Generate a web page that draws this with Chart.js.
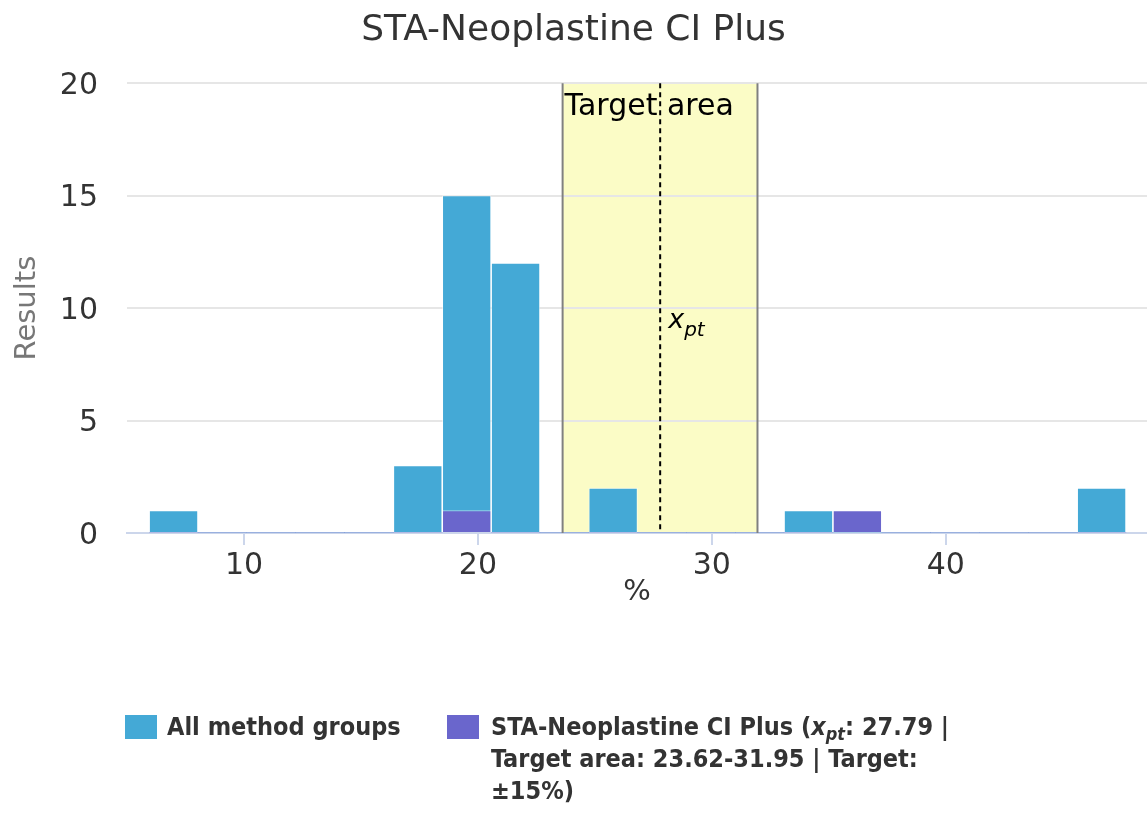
<!DOCTYPE html>
<html>
<head>
<meta charset="utf-8">
<script src="https://cdn.jsdelivr.net/npm/chart.js@4/dist/chart.umd.min.js"></script>
<style>
  html, body { margin: 0; padding: 0; background: #ffffff; }
  #wrap { position: relative; width: 1147px; height: 814px; overflow: hidden; }
  #c { position: absolute; left: 0; top: 0; }
  .leg { position: absolute; font-family: 'DejaVu Sans Condensed', 'DejaVu Sans', sans-serif; font-stretch: condensed;
         font-weight: bold; font-size: 25px; line-height: 32px; color: #333333; }
  .sw { position: absolute; width: 32px; height: 24px; }
  .lt { position: absolute; }
  .lt sub { font-size: 18px; line-height: 0; vertical-align: -5px; }
</style>
</head>
<body>
<div id="wrap">
  <canvas id="c" width="1147" height="814"></canvas>
  <div id="legend"></div>
</div>
<script>
// ---- data ----
const chartTitle = 'STA-Neoplastine CI Plus';
const xAxisTitle = '%';
const yAxisTitle = 'Results';
const seriesNames = ['All method groups', 'STA-Neoplastine CI Plus'];
const seriesColors = ['#44a9d6', '#6a66cc'];
const binCenters = [6.99, 9.08, 11.17, 13.26, 15.34, 17.43, 19.52, 21.61, 23.69, 25.78,
                    27.87, 29.96, 32.04, 34.13, 36.22, 38.31, 40.39, 42.48, 44.57, 46.66];
const allMethodCounts = [1, 0, 0, 0, 0, 3, 15, 12, 0, 2, 0, 0, 0, 1, 0, 0, 0, 0, 0, 2];
const methodCounts    = [0, 0, 0, 0, 0, 0, 1, 0, 0, 0, 0, 0, 0, 0, 1, 0, 0, 0, 0, 0];
const xTicks = [10, 20, 30, 40];
const yTicks = [0, 5, 10, 15, 20];
const xRange = [5, 48.6];
const yRange = [0, 20];
const targetLow = 23.62;
const targetHigh = 31.95;
const xpt = 27.79;
const targetPct = 15;
const targetLabel = 'Target area';

// ---- plugin for target area ----
const targetPlugin = {
  id: 'targetArea',
  beforeDraw(chart) {
    const { ctx, chartArea, scales } = chart;
    const l = scales.x.getPixelForValue(targetLow);
    const r = scales.x.getPixelForValue(targetHigh);
    ctx.save();
    ctx.fillStyle = '#fbfcc6';
    ctx.fillRect(l, chartArea.top, r - l, chartArea.bottom - chartArea.top);
    ctx.restore();
  },
  afterDatasetsDraw(chart) {
    const { ctx, chartArea, scales } = chart;
    const l = scales.x.getPixelForValue(targetLow);
    const r = scales.x.getPixelForValue(targetHigh);
    const p = scales.x.getPixelForValue(xpt);
    ctx.save();
    ctx.strokeStyle = '#808080';
    ctx.lineWidth = 2;
    ctx.beginPath();
    ctx.moveTo(l, chartArea.top); ctx.lineTo(l, chartArea.bottom);
    ctx.moveTo(r, chartArea.top); ctx.lineTo(r, chartArea.bottom);
    ctx.stroke();
    ctx.strokeStyle = '#000000';
    ctx.setLineDash([5, 4]);
    ctx.beginPath();
    ctx.moveTo(p, chartArea.top); ctx.lineTo(p, chartArea.bottom);
    ctx.stroke();
    ctx.setLineDash([]);
    ctx.fillStyle = '#000000';
    ctx.textBaseline = 'alphabetic';
    ctx.textAlign = 'left';
    ctx.font = '30px "DejaVu Sans"';
    ctx.fillText(targetLabel, l + 2, chartArea.top + 32);
    const midY = (chartArea.top + chartArea.bottom) / 2;
    ctx.font = 'italic 27px "DejaVu Sans"';
    ctx.fillText('x', p + 8, midY + 20);
    const w = ctx.measureText('x').width;
    ctx.font = 'italic 20px "DejaVu Sans"';
    ctx.fillText('pt', p + 8 + w, midY + 28);
    ctx.restore();
  }
};

const makePoints = (arr) => binCenters.map((x, i) => ({ x: x, y: arr[i] }));

const ctx = document.getElementById('c').getContext('2d');
const chart = new Chart(ctx, {
  type: 'bar',
  data: {
    datasets: [
      {
        label: seriesNames[0],
        data: makePoints(allMethodCounts),
        backgroundColor: seriesColors[0],
        borderColor: 'rgba(255,255,255,0.55)',
        borderWidth: (c) => (c.raw && c.raw.y > 0 ? 1 : 0),
        barPercentage: 1,
        categoryPercentage: 1,
        order: 1
      },
      {
        label: seriesNames[1],
        data: makePoints(methodCounts),
        backgroundColor: seriesColors[1],
        borderColor: 'rgba(255,255,255,0.55)',
        borderWidth: (c) => (c.raw && c.raw.y > 0 ? 1 : 0),
        barPercentage: 1,
        categoryPercentage: 1,
        order: 0
      }
    ]
  },
  options: {
    responsive: false,
    animation: false,
    devicePixelRatio: 1,
    layout: { padding: { left: 0, right: 0, top: 0, bottom: 201 } },
    plugins: {
      legend: { display: false },
      tooltip: { enabled: false },
      title: {
        display: true,
        text: chartTitle,
        color: '#333333',
        font: { family: 'DejaVu Sans', size: 36, weight: 'normal' },
        padding: { top: 9, bottom: 31 }
      }
    },
    scales: {
      x: {
        type: 'linear',
        stacked: true,
        offset: false,
        min: xRange[0],
        max: xRange[1],
        afterBuildTicks: (s) => { s.ticks = xTicks.map(v => ({ value: v })); },
        afterFit: (s) => { s.height = 80; },
        ticks: {
          color: '#333333',
          font: { family: 'DejaVu Sans', size: 30 },
          padding: 3,
          maxRotation: 0,
          autoSkip: false
        },
        grid: {
          offset: false,
          drawOnChartArea: false,
          drawTicks: true,
          tickLength: 12,
          color: '#ccd6eb',
          lineWidth: 2
        },
        border: { display: true, color: '#ccd6eb', width: 2 },
        title: {
          display: true,
          text: xAxisTitle,
          color: '#333333',
          font: { family: 'DejaVu Sans', size: 29 },
          padding: { top: 0, bottom: 3 }
        }
      },
      y: {
        stacked: false,
        min: yRange[0],
        max: yRange[1],
        afterBuildTicks: (s) => { s.ticks = yTicks.map(v => ({ value: v })); },
        afterFit: (s) => { s.width = 127; },
        ticks: {
          color: '#333333',
          font: { family: 'DejaVu Sans', size: 30 },
          padding: 29,
          labelOffset: 3
        },
        grid: { color: '#e6e6e6', lineWidth: 2, drawTicks: false },
        border: { display: false },
        title: {
          display: true,
          text: yAxisTitle,
          color: '#777777',
          font: { family: 'DejaVu Sans', size: 29 },
          padding: { top: 10, bottom: 0 }
        }
      }
    }
  },
  plugins: [targetPlugin]
});

// ---- HTML legend ----
const legend = document.getElementById('legend');
const legendTexts = [
  seriesNames[0],
  seriesNames[1] + ' (<i>x<sub>pt</sub></i>: ' + xpt.toFixed(2) + ' | Target area: ' +
    targetLow.toFixed(2) + '-' + targetHigh.toFixed(2) + ' | Target: ±' + targetPct + '%)'
];
const legendPos = [
  { sw: 125, tx: 167, w: 260 },
  { sw: 447, tx: 491, w: 480 }
];
legendTexts.forEach((t, i) => {
  const item = document.createElement('div');
  item.className = 'leg';
  item.style.left = '0px';
  item.style.top = '711px';
  const sw = document.createElement('div');
  sw.className = 'sw';
  sw.style.left = legendPos[i].sw + 'px';
  sw.style.top = '4px';
  sw.style.background = seriesColors[i];
  const tx = document.createElement('div');
  tx.className = 'lt';
  tx.style.left = legendPos[i].tx + 'px';
  tx.style.top = '0px';
  tx.style.width = legendPos[i].w + 'px';
  tx.innerHTML = t;
  item.appendChild(sw);
  item.appendChild(tx);
  legend.appendChild(item);
});
</script>
</body>
</html>
